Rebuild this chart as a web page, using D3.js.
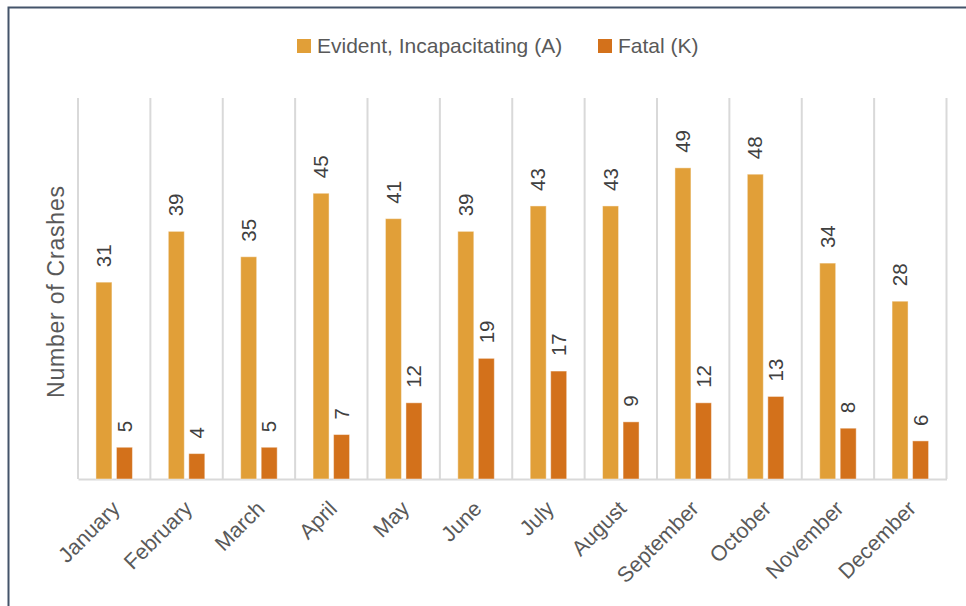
<!DOCTYPE html>
<html>
<head>
<meta charset="utf-8">
<script src="https://cdn.jsdelivr.net/npm/d3@7"></script>
<style>
    body { margin: 0; background: #fff; }
    #chart { width: 966px; height: 606px; overflow: hidden; }
    text { font-family: "Liberation Sans", Arial, sans-serif; }
</style>
</head>
<body>
<div id="chart"></div>
<script>
    // data
const months = ["January", "February", "March", "April", "May", "June",
    "July", "August", "September", "October", "November", "December"];
const evidentValues = [31, 39, 35, 45, 41, 39, 43, 43, 49, 48, 34, 28];
const fatalValues = [5, 4, 5, 7, 12, 19, 17, 9, 12, 13, 8, 6];
const seriesNames = ["Evident, Incapacitating (A)", "Fatal (K)"];
const seriesColors = ["#E19F38", "#D3711B"];
const yMax = 60;

function drawChart() {
        // plot area
    const width = 966;
    const height = 606;
    const plot = { left: 78, right: 946.5, top: 98, bottom: 479 };

    const data = months.map((m, i) => ({ month: m, a: evidentValues[i], k: fatalValues[i] }));

    const svg = d3.select("#chart")
        .append("svg")
        .attr("width", width)
        .attr("height", height);

        // outer frame (only top and left are visible)
    svg.append("rect")
        .attr("x", 8.5)
        .attr("y", 7.5)
        .attr("width", 1200)
        .attr("height", 1200)
        .attr("fill", "none")
        .attr("stroke", "#44546A")
        .attr("stroke-width", 2);

        // scales
    const xScale = d3.scaleBand()
        .domain(months)
        .range([plot.left, plot.right])
        .padding(0);

    const bw = xScale.bandwidth();
    const xInner = d3.scaleBand()
        .domain(["a", "k"])
        .range([bw / 2 - 18.25, bw / 2 + 18.25])
        .paddingInner(0.22)
        .paddingOuter(0);

    const yScale = d3.scaleLinear()
        .domain([0, yMax])
        .range([plot.bottom, plot.top]);

        // category separators
    svg.append("g")
        .attr("class", "grid")
        .selectAll("line")
        .data(months.concat(["end"]))
        .enter()
        .append("line")
        .attr("x1", (d, i) => plot.left + i * bw)
        .attr("x2", (d, i) => plot.left + i * bw)
        .attr("y1", yScale(yMax))
        .attr("y2", yScale(0))
        .attr("stroke", "#D9D9D9")
        .attr("stroke-width", 2);

        // bottom axis line + rotated labels
    const xAxis = svg.append("g")
        .attr("class", "x-axis")
        .attr("transform", `translate(0,${yScale(0)})`)
        .call(d3.axisBottom(xScale).tickSize(0).tickPadding(0));

    xAxis.select(".domain")
        .attr("stroke", "#D9D9D9")
        .attr("stroke-width", 2);

    xAxis.selectAll("text")
        .attr("fill", "#595959")
        .style("font-size", "21.5px")
        .style("text-anchor", "end")
        .attr("y", 0)
        .attr("dy", 0)
        .attr("transform", "translate(7,31) rotate(-45)");

        // bars
    const groups = svg.selectAll(".month")
        .data(data)
        .enter()
        .append("g")
        .attr("class", "month")
        .attr("transform", (d) => `translate(${xScale(d.month)},0)`);

    ["a", "k"].forEach(function (key, s) {
        groups.append("rect")
            .attr("class", "bar-" + key)
            .attr("x", xInner(key))
            .attr("y", (d) => yScale(d[key]))
            .attr("width", xInner.bandwidth())
            .attr("height", (d) => yScale(0) - yScale(d[key]))
            .attr("fill", seriesColors[s])
            .attr("stroke", "rgba(255,255,255,0.45)")
            .attr("stroke-width", 1);

            // value labels, rotated
        groups.append("text")
            .attr("class", "label-" + key)
            .attr("transform", (d) => `translate(${xInner(key) + xInner.bandwidth() / 2},${yScale(d[key]) - 15}) rotate(-90)`)
            .attr("dy", "0.35em")
            .attr("fill", "#404040")
            .style("font-size", "20.5px")
            .text((d) => d[key]);
    });

        // y axis title
    svg.append("text")
        .attr("transform", "translate(64,292) rotate(-90)")
        .attr("text-anchor", "middle")
        .attr("fill", "#595959")
        .style("font-size", "23px")
        .attr("textLength", 212)
        .attr("lengthAdjust", "spacing")
        .text("Number of Crashes");

        // legend
    const legendX = [297, 598];
    const legend = svg.append("g")
        .attr("class", "legend");

    const legendItem = legend.selectAll(".legend-item")
        .data(seriesNames)
        .enter()
        .append("g")
        .attr("class", "legend-item")
        .attr("transform", (d, i) => `translate(${legendX[i]},39)`);

    legendItem.append("rect")
        .attr("width", 14)
        .attr("height", 14)
        .attr("fill", (d, i) => seriesColors[i]);

    legendItem.append("text")
        .attr("x", 20)
        .attr("y", 13.5)
        .attr("fill", "#595959")
        .style("font-size", "21px")
        .text((d) => d);
}

window.onload = drawChart;
</script>
</body>
</html>
